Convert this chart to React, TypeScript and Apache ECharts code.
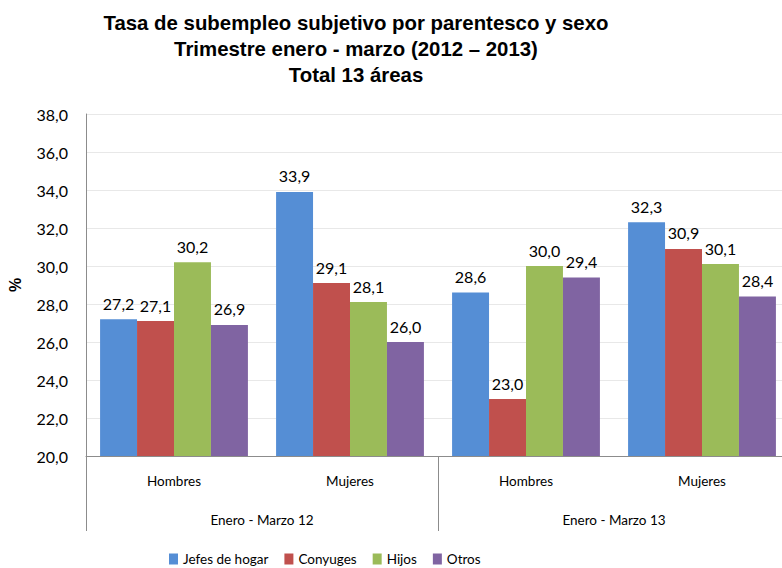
import React, { useEffect, useRef } from "react";
import * as echarts from "echarts";

const categories = ["Hombres", "Mujeres", "Hombres", "Mujeres"];
const periods = ["Enero - Marzo 12", "Enero - Marzo 13"];
const seriesNames = ["Jefes de hogar", "Conyuges", "Hijos", "Otros"];
const jefes = [27.2, 33.9, 28.6, 32.3];
const conyuges = [27.1, 29.1, 23.0, 30.9];
const hijos = [30.2, 28.1, 30.0, 30.1];
const otros = [26.9, 26.0, 29.4, 28.4];
const colors = ["#558ED5", "#C0504D", "#9BBB59", "#8064A2"];
const titleText = "Tasa de subempleo subjetivo por parentesco y sexo\nTrimestre enero - marzo (2012 – 2013)\nTotal 13 áreas";

const fmt = (v: number) => v.toFixed(1).replace(".", ",");
const FONT = "Lato";

export default function App() {
  const ref = useRef<HTMLDivElement>(null);
  useEffect(() => {
    if (!ref.current) return;
    const chart = echarts.init(ref.current, undefined, { renderer: "svg" });
    const data = [jefes, conyuges, hijos, otros];
    chart.setOption({
      animation: false,
      textStyle: { fontFamily: FONT },
      graphic: [
        {
          type: "text",
          x: 356,
          y: 10,
          style: {
            text: titleText,
            textAlign: "center",
            textVerticalAlign: "top",
            font: 'bold 20.4px "Liberation Sans", Arial, sans-serif',
            fill: "#000",
            lineHeight: 26,
          },
        },
      ],
      legend: {
        data: seriesNames,
        left: 169,
        top: 552,
        padding: 0,
        icon: "rect",
        itemWidth: 9,
        itemHeight: 11,
        itemGap: 16,
        textStyle: { fontFamily: FONT, fontSize: 13.5, color: "#000" },
      },
      grid: { left: 86, top: 114, width: 704, height: 342, containLabel: false, outerBoundsMode: "none" },
      xAxis: [
        {
          type: "category",
          data: categories,
          position: "bottom",
          axisLine: { show: true, lineStyle: { color: "#8c8c8c", width: 1 } },
          axisTick: { show: false },
          axisLabel: { margin: 18, fontFamily: FONT, fontSize: 13.5, color: "#000" },
        },
        {
          type: "category",
          data: periods,
          position: "bottom",
          axisLine: { show: false },
          axisTick: { show: true, length: 75, lineStyle: { color: "#8c8c8c", width: 1 } },
          axisLabel: { margin: 57, fontFamily: FONT, fontSize: 13.5, color: "#000" },
        },
      ],
      yAxis: {
        type: "value",
        min: 20,
        max: 38,
        interval: 2,
        name: "%",
        nameLocation: "middle",
        nameGap: 63,
        nameRotate: 90,
        nameTextStyle: { fontFamily: "Liberation Sans", fontWeight: "bold", fontSize: 16, color: "#000" },
        axisLine: { show: true, lineStyle: { color: "#8c8c8c", width: 1 } },
        axisTick: { show: false },
        splitLine: { lineStyle: { color: "#e8e8e8", width: 1 } },
        axisLabel: { margin: 18, formatter: (v: number) => fmt(v), fontFamily: FONT, fontSize: 16, color: "#000" },
      },
      series: seriesNames.map((name, i) => ({
        name,
        type: "bar",
        xAxisIndex: 0,
        data: data[i],
        barGap: "0%",
        barCategoryGap: "16%",
        itemStyle: { color: colors[i] },
        label: {
          show: true,
          position: "top",
          distance: 8,
          formatter: (p: any) => fmt(p.value),
          fontFamily: FONT,
          fontSize: 16,
          color: "#000",
        },
      })),
    });
    return () => chart.dispose();
  }, []);
  return (
    <div
      ref={ref}
      style={{ position: "fixed", left: 0, top: 0, width: 782, height: 568, background: "#fff" }}
    />
  );
}
